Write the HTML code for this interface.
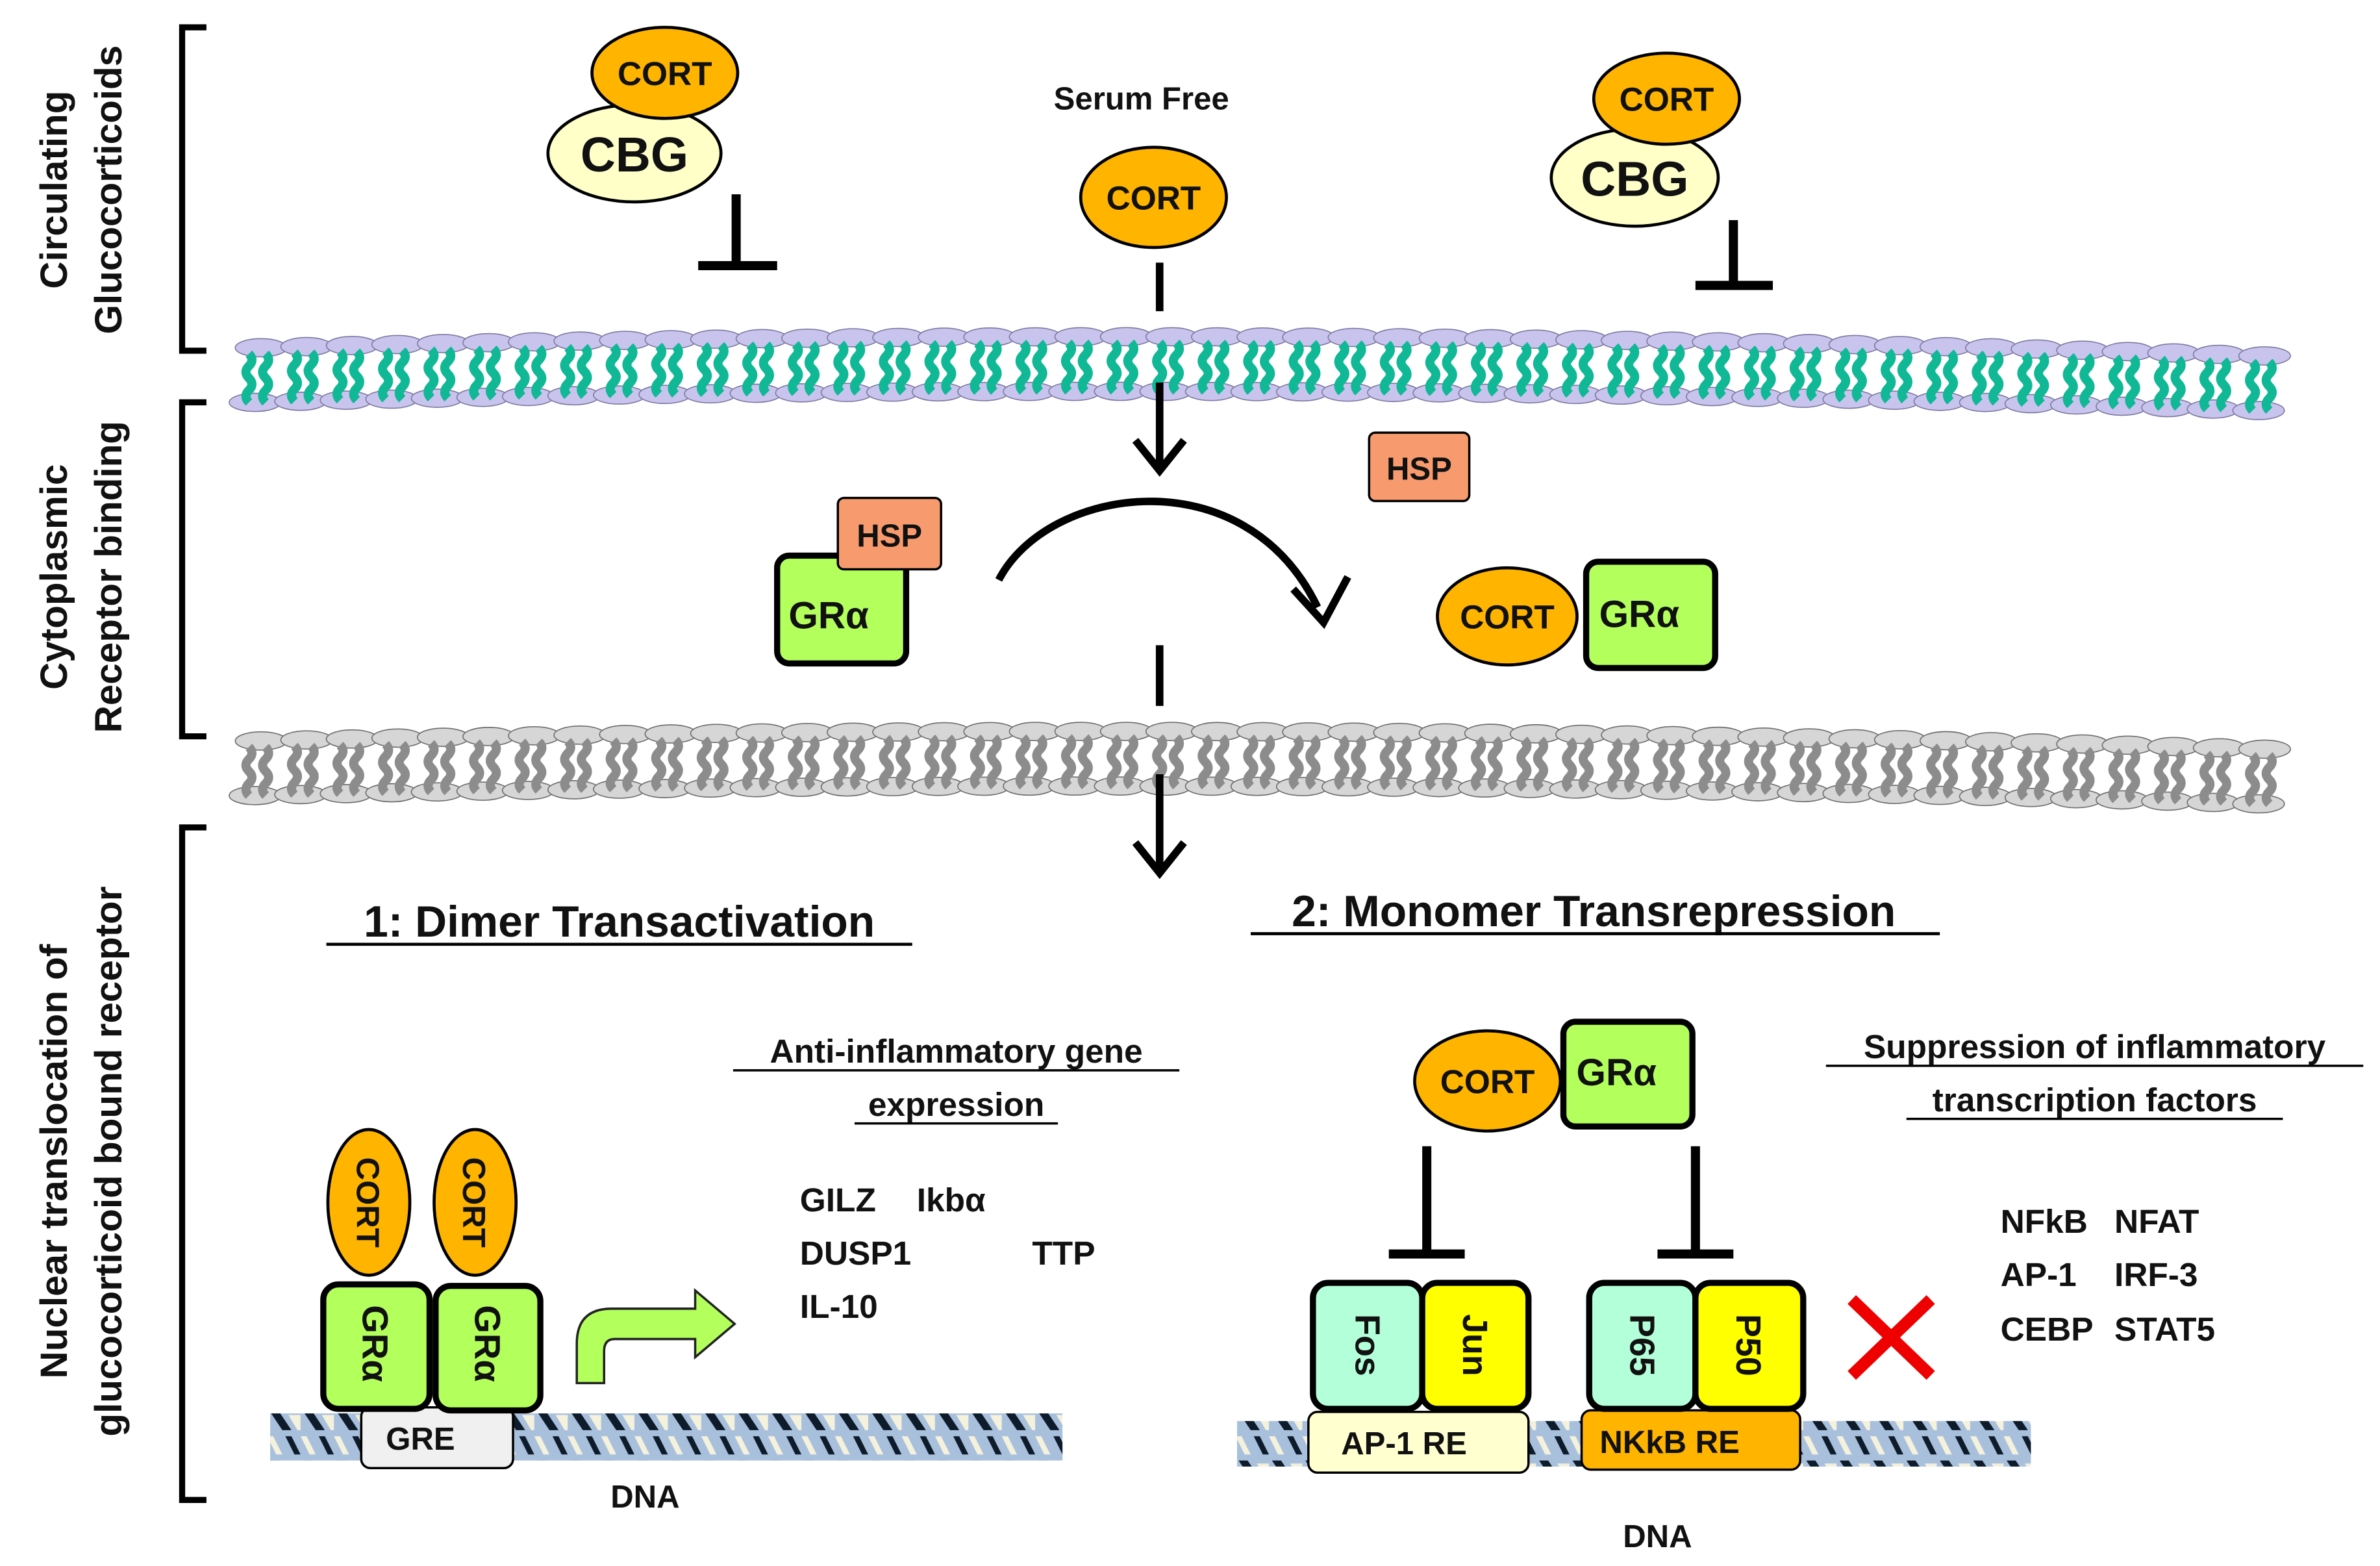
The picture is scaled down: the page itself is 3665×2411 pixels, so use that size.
<!DOCTYPE html>
<html><head><meta charset="utf-8"><style>
html,body{margin:0;padding:0;background:#fff;}
svg{display:block;}
text{font-family:"Liberation Sans",sans-serif;font-weight:bold;fill:#111;}
</style></head><body>
<svg id="s" width="3665" height="2411" viewBox="0 0 1568 1031.5" preserveAspectRatio="none" xmlns="http://www.w3.org/2000/svg">
<defs>
<pattern id="dna" width="22" height="32" patternUnits="userSpaceOnUse">
<rect width="22" height="32" fill="#a9c0dd"/>
<path d="M2 2 L10 14 L16 14 L8 2Z" fill="#0d1b2a"/>
<path d="M12 18 L18 30 L22 30 L16 18Z" fill="#0d1b2a"/>
<path d="M14 4 L20 14 L22 14 L22 4Z" fill="#f4f1dc"/>
<path d="M0 18 L6 30 L10 30 L4 18Z" fill="#f4f1dc"/>
</pattern>
</defs>
<g id="mem1"></g><g id="mem2"></g>

<!-- brackets -->
<g stroke="#000" stroke-width="4" fill="none">
<path d="M136 18 H120 V231 H136"/>
<path d="M136 265 H120 V485 H136"/>
<path d="M136 545 H120 V988 H136"/>
</g>
<g font-size="25">
<text transform="translate(44,125) rotate(-90)" text-anchor="middle">Circulating</text>
<text transform="translate(80,125) rotate(-90)" text-anchor="middle">Glucocorticoids</text>
<text transform="translate(44,380) rotate(-90)" text-anchor="middle">Cytoplasmic</text>
<text transform="translate(80,380) rotate(-90)" text-anchor="middle">Receptor binding</text>
<text transform="translate(44,765) rotate(-90)" text-anchor="middle">Nuclear translocation of</text>
<text transform="translate(80,765) rotate(-90)" text-anchor="middle">glucocorticoid bound receptor</text>
</g>

<ellipse cx="418" cy="101" rx="57" ry="32" fill="#ffffc8" stroke="#000" stroke-width="2"/>
<ellipse cx="438" cy="48" rx="48" ry="30" fill="#ffb400" stroke="#000" stroke-width="2"/>
<text x="418" y="113" font-size="32" text-anchor="middle">CBG</text>
<text x="438" y="56" font-size="22" text-anchor="middle">CORT</text>
<path d="M485 128 V175 M460 175 H512" stroke="#000" stroke-width="6"/>
<ellipse cx="1077" cy="117" rx="55" ry="32" fill="#ffffc8" stroke="#000" stroke-width="2"/>
<ellipse cx="1098" cy="65" rx="48" ry="30" fill="#ffb400" stroke="#000" stroke-width="2"/>
<text x="1077" y="129" font-size="32" text-anchor="middle">CBG</text>
<text x="1098" y="73" font-size="22" text-anchor="middle">CORT</text>
<path d="M1142 145 V188 M1117 188 H1168" stroke="#000" stroke-width="6"/>

<text x="752" y="72" font-size="21" text-anchor="middle">Serum Free</text>
<ellipse cx="760" cy="130" rx="48" ry="33" fill="#ffb400" stroke="#000" stroke-width="2"/>
<text x="760" y="138" font-size="22" text-anchor="middle">CORT</text>

<g stroke="#000" stroke-width="5" fill="none">
<path d="M764 173 V205"/>
<path d="M764 252 V310 M748 290 L764 310 L780 290"/>
<path d="M764 425 V465"/>
<path d="M764 510 V575 M748 555 L764 575 L780 555"/>
<path d="M658 382 C690 320 820 300 868 400"/>
<path d="M852 388 L872 410 L888 380"/>
</g>

<rect x="902" y="285" width="66" height="45" rx="4" fill="#f79b6e" stroke="#000" stroke-width="1.5"/>
<text x="935" y="316" font-size="21" text-anchor="middle">HSP</text>
<rect x="512" y="366" width="85" height="71" rx="8" fill="#b3ff5c" stroke="#000" stroke-width="4"/>
<rect x="552" y="328" width="68" height="47" rx="4" fill="#f79b6e" stroke="#000" stroke-width="1.5"/>
<text x="586" y="360" font-size="21" text-anchor="middle">HSP</text>
<text x="546" y="414" font-size="25" text-anchor="middle">GRα</text>

<ellipse cx="993" cy="406" rx="46" ry="32" fill="#ffb400" stroke="#000" stroke-width="2"/>
<text x="993" y="414" font-size="22" text-anchor="middle">CORT</text>
<rect x="1045" y="370" width="85" height="70" rx="8" fill="#b3ff5c" stroke="#000" stroke-width="4"/>
<text x="1080" y="413" font-size="25" text-anchor="middle">GRα</text>

<text x="408" y="617" font-size="29" text-anchor="middle">1: Dimer Transactivation</text>
<path d="M215 622 H601" stroke="#000" stroke-width="2"/>
<text x="1050" y="610" font-size="29" text-anchor="middle">2: Monomer Transrepression</text>
<path d="M824 615 H1278" stroke="#000" stroke-width="2"/>

<text x="630" y="700" font-size="22" text-anchor="middle">Anti-inflammatory gene</text>
<path d="M483 705 H777" stroke="#000" stroke-width="1.5"/>
<text x="630" y="735" font-size="22" text-anchor="middle">expression</text>
<path d="M563 740 H697" stroke="#000" stroke-width="1.5"/>
<g font-size="22">
<text x="527" y="798">GILZ</text><text x="604" y="798">Ikbα</text>
<text x="527" y="833">DUSP1</text><text x="680" y="833">TTP</text>
<text x="527" y="868">IL-10</text>
</g>

<rect x="178" y="931" width="522" height="31" fill="url(#dna)"/>
<rect x="238" y="927" width="100" height="40" rx="6" fill="#f0f0f0" stroke="#000" stroke-width="1.5"/>
<text x="277" y="955" font-size="21" text-anchor="middle">GRE</text>
<text x="425" y="993" font-size="21" text-anchor="middle">DNA</text>
<ellipse cx="243" cy="792" rx="27" ry="48" fill="#ffb400" stroke="#000" stroke-width="2"/>
<ellipse cx="313" cy="792" rx="27" ry="48" fill="#ffb400" stroke="#000" stroke-width="2"/>
<text transform="translate(235,792) rotate(90)" font-size="21" text-anchor="middle">CORT</text>
<text transform="translate(305,792) rotate(90)" font-size="21" text-anchor="middle">CORT</text>
<rect x="213" y="846" width="70" height="82" rx="10" fill="#b3ff5c" stroke="#000" stroke-width="4"/>
<rect x="287" y="847" width="69" height="82" rx="10" fill="#b3ff5c" stroke="#000" stroke-width="4"/>
<text transform="translate(239,885) rotate(90)" font-size="24" text-anchor="middle">GRα</text>
<text transform="translate(313,885) rotate(90)" font-size="24" text-anchor="middle">GRα</text>
<path d="M380 911 V885 Q380 862 403 862 H458 V850 L484 872 L458 894 V882 H405 Q398 882 398 890 V911 Z" fill="#b3ff5c" stroke="#222" stroke-width="1.5"/>

<ellipse cx="980" cy="712" rx="48" ry="33" fill="#ffb400" stroke="#000" stroke-width="2"/>
<text x="980" y="720" font-size="22" text-anchor="middle">CORT</text>
<rect x="1030" y="673" width="85" height="69" rx="8" fill="#b3ff5c" stroke="#000" stroke-width="4"/>
<text x="1065" y="715" font-size="25" text-anchor="middle">GRα</text>
<path d="M940 755 V826 M915 826 H965 M1117 755 V826 M1092 826 H1142" stroke="#000" stroke-width="6"/>

<rect x="815" y="936" width="523" height="30" fill="url(#dna)"/>
<rect x="862" y="930" width="145" height="40" rx="6" fill="#ffffd0" stroke="#000" stroke-width="1.5"/>
<text x="925" y="958" font-size="21" text-anchor="middle">AP-1 RE</text>
<rect x="1042" y="929" width="144" height="39" rx="6" fill="#ffb400" stroke="#000" stroke-width="1.5"/>
<text x="1100" y="957" font-size="21" text-anchor="middle">NKkB RE</text>
<rect x="865" y="845" width="72" height="83" rx="10" fill="#b3ffd9" stroke="#000" stroke-width="4"/>
<rect x="937" y="845" width="70" height="83" rx="10" fill="#ffff00" stroke="#000" stroke-width="4"/>
<rect x="1047" y="845" width="70" height="83" rx="10" fill="#b3ffd9" stroke="#000" stroke-width="4"/>
<rect x="1117" y="845" width="71" height="83" rx="10" fill="#ffff00" stroke="#000" stroke-width="4"/>
<g font-size="23">
<text transform="translate(893,886) rotate(90)" text-anchor="middle">Fos</text>
<text transform="translate(964,886) rotate(90)" text-anchor="middle">Jun</text>
<text transform="translate(1074,886) rotate(90)" text-anchor="middle">P65</text>
<text transform="translate(1144,886) rotate(90)" text-anchor="middle">P50</text>
</g>
<text x="1092" y="1019" font-size="21" text-anchor="middle">DNA</text>
<path d="M1220 856 L1272 906 M1272 856 L1220 906" stroke="#e00" stroke-width="8"/>

<text x="1380" y="697" font-size="22" text-anchor="middle">Suppression of inflammatory</text>
<path d="M1203 702 H1557" stroke="#000" stroke-width="1.5"/>
<text x="1380" y="732" font-size="22" text-anchor="middle">transcription factors</text>
<path d="M1256 737 H1504" stroke="#000" stroke-width="1.5"/>
<g font-size="22">
<text x="1318" y="812">NFkB</text><text x="1393" y="812">NFAT</text>
<text x="1318" y="847">AP-1</text><text x="1393" y="847">IRF-3</text>
<text x="1318" y="883">CEBP</text><text x="1393" y="883">STAT5</text>
</g>
</svg>
<script>
(function(){
function mem(id,yfn,top,tail,stroke){
 var g=document.getElementById(id),h='';
 for(var x=158;x<=1490;x+=30){
  var y=yfn(x);
  h+='<ellipse cx="'+(x+14)+'" cy="'+(y-17)+'" rx="17" ry="6" fill="'+top+'" stroke="'+stroke+'" stroke-width="0.7"/>';
  h+='<ellipse cx="'+(x+10)+'" cy="'+(y+19)+'" rx="17" ry="6" fill="'+top+'" stroke="'+stroke+'" stroke-width="0.7"/>';
 }
 for(var x=158;x<=1490;x+=30){
  var y=yfn(x);
  for(var k=0;k<2;k++){
   var xx=x+6+k*11;
   h+='<path d="M'+xx+' '+(y-13)+' q4 4 0 8 q-4 4 0 8 q4 4 0 8 q-4 4 0 8" stroke="'+tail+'" stroke-width="6" fill="none"/>';
  }
 }
 g.innerHTML=h;
}
mem('mem1',function(x){var t=(x-160)/1335;return 246-34*t+40*t*t;},'#c9c4ee','#10b896','#7d7aa0');
mem('mem2',function(x){var t=(x-160)/1335;return 505-30*t+36*t*t;},'#d6d6d6','#8c8c8c','#6e6e6e');
})();
</script>
</body></html>
